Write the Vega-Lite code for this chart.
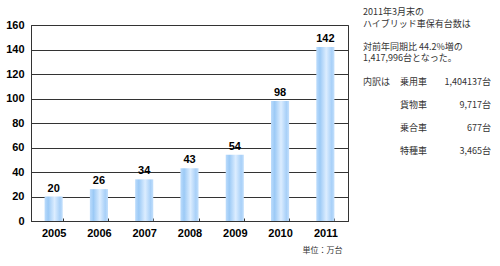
{
  "$schema": "https://vega.github.io/schema/vega-lite/v6.json",
  "autosize": {"type": "pad"},
  "padding": {"left": 5, "top": 8, "right": 0, "bottom": 0},
  "spacing": 0,
  "background": "white",
  "config": {
    "view": {"stroke": "#333333", "strokeWidth": 1},
    "font": "Liberation Sans"
  },
  "datasets": {
    "hv": [
      {"year": "2005", "value": 20},
      {"year": "2006", "value": 26},
      {"year": "2007", "value": 34},
      {"year": "2008", "value": 43},
      {"year": "2009", "value": 54},
      {"year": "2010", "value": 98},
      {"year": "2011", "value": 142}
    ],
    "notes": [
      {"line": 0, "col": "left", "text": "2011年3月末の"},
      {"line": 1, "col": "left", "text": "ハイブリッド車保有台数は"},
      {"line": 3, "col": "left", "text": "対前年同期比 44.2%増の"},
      {"line": 4, "col": "left", "text": "1,417,996台となった。"},
      {"line": 6, "col": "left", "text": "内訳は"},
      {"line": 6, "col": "name", "text": "乗用車"},
      {"line": 6, "col": "value", "text": "1,404137台"},
      {"line": 8, "col": "name", "text": "貨物車"},
      {"line": 8, "col": "value", "text": "9,717台"},
      {"line": 10, "col": "name", "text": "乗合車"},
      {"line": 10, "col": "value", "text": "677台"},
      {"line": 12, "col": "name", "text": "特種車"},
      {"line": 12, "col": "value", "text": "3,465台"}
    ]
  },
  "hconcat": [
    {
      "width": 317,
      "height": 196,
      "data": {"name": "hv"},
      "encoding": {
        "x": {
          "field": "year", "type": "nominal", "sort": null,
          "scale": {"paddingInner": 0.6, "paddingOuter": 0.3},
          "axis": {
            "title": "単位：万台", "titleFont": "Noto Sans CJK JP", "titleFontSize": 8, "titleFontWeight": "normal",
            "titleColor": "#333333", "titleAlign": "right", "titleX": 311, "titleY": 29, "titleBaseline": "middle",
            "labelAngle": 0, "labelFontWeight": "bold", "labelFontSize": 11, "labelColor": "#000000", "labelPadding": 9,
            "tickBand": "extent", "tickSize": -3, "tickColor": "#333333", "domainColor": "#333333"
          }
        },
        "y": {
          "field": "value", "type": "quantitative",
          "scale": {"domain": [0, 160]},
          "axis": {
            "title": null, "values": [0, 20, 40, 60, 80, 100, 120, 140, 160],
            "grid": true, "gridColor": "#333333", "gridOpacity": 1,
            "ticks": false, "domainColor": "#333333",
            "labelFontWeight": "bold", "labelFontSize": 11, "labelColor": "#000000", "labelPadding": 7
          }
        }
      },
      "layer": [
        {
          "mark": {
            "type": "bar",
            "fill": {
              "gradient": "linear", "x1": 0, "x2": 1, "y1": 0, "y2": 0,
              "stops": [
                {"offset": 0, "color": "#bcdcfc"},
                {"offset": 0.2, "color": "#9ccaf6"},
                {"offset": 0.55, "color": "#dcedff"},
                {"offset": 0.85, "color": "#a8d0f8"},
                {"offset": 1, "color": "#c4e0fc"}
              ]
            }
          }
        },
        {
          "mark": {"type": "text", "baseline": "bottom", "dy": -3, "fontWeight": "bold", "fontSize": 11, "color": "#000000"},
          "encoding": {"text": {"field": "value", "type": "quantitative"}}
        }
      ]
    },
    {
      "width": 152,
      "height": 196,
      "view": {"stroke": null},
      "data": {"name": "notes"},
      "encoding": {
        "y": {"field": "line", "type": "quantitative", "scale": {"domain": [0, 12], "range": [-13, 126]}, "axis": null},
        "x": {"field": "col", "type": "nominal", "scale": {"type": "point", "domain": ["left", "name", "value"], "range": [14, 142], "padding": 0}, "axis": null},
        "text": {"field": "text", "type": "nominal"}
      },
      "layer": [
        {
          "transform": [{"filter": "datum.col === 'left'"}],
          "mark": {"type": "text", "align": "left", "baseline": "middle", "font": "Noto Sans CJK JP", "fontSize": 9, "color": "#333333"}
        },
        {
          "transform": [{"filter": "datum.col !== 'left'"}],
          "mark": {"type": "text", "align": "right", "baseline": "middle", "font": "Noto Sans CJK JP", "fontSize": 9, "color": "#333333"}
        }
      ]
    }
  ]
}
